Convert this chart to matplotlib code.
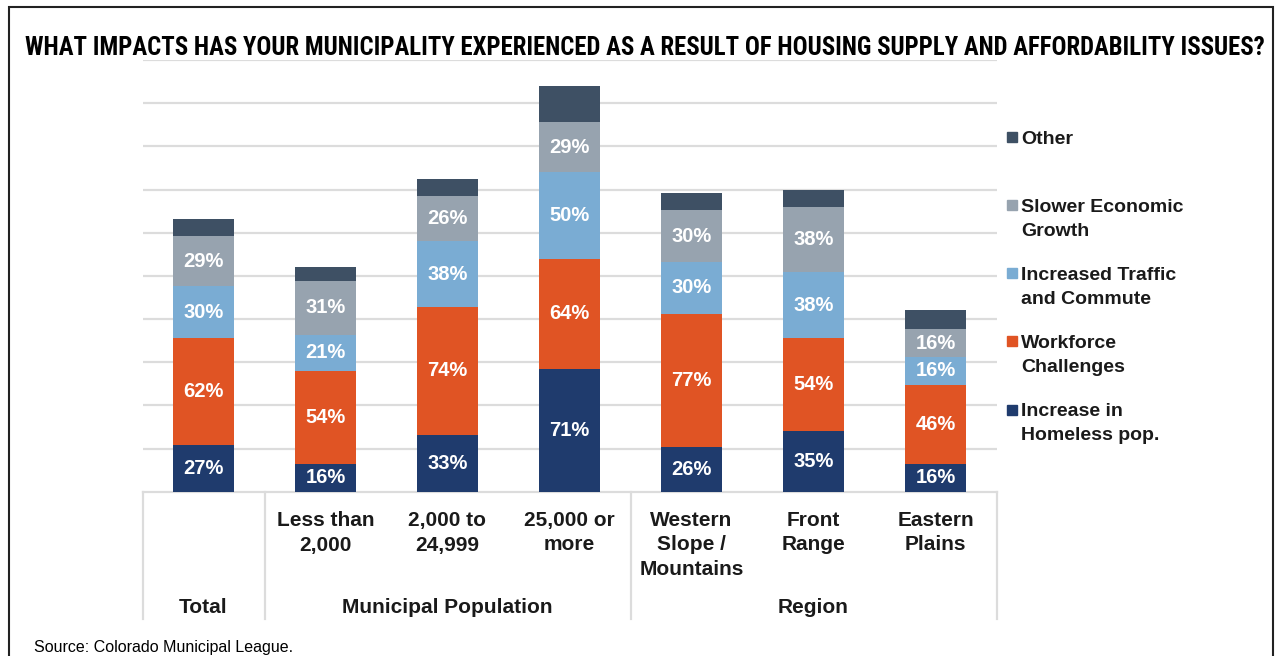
import matplotlib
matplotlib.use("Agg")
import matplotlib.pyplot as plt
from matplotlib import font_manager as fm
from matplotlib.patches import Rectangle
import numpy as np

# ---- data -------------------------------------------------------------
categories = ["Total", "Less than\n2,000", "2,000 to\n24,999", "25,000 or\nmore",
              "Western\nSlope /\nMountains", "Front\nRange", "Eastern\nPlains"]
groups = [("Total", 0, 0), ("Municipal Population", 1, 3), ("Region", 4, 6)]

homeless = [27, 16, 33, 71, 26, 35, 16]
workforce = [62, 54, 74, 64, 77, 54, 46]
traffic = [30, 21, 38, 50, 30, 38, 16]
slower = [29, 31, 26, 29, 30, 38, 16]
other = [10, 8, 10, 21, 10, 10, 11]

series_names = ["Increase in\nHomeless pop.", "Workforce\nChallenges",
                "Increased Traffic\nand Commute", "Slower Economic\nGrowth", "Other"]
series_values = [homeless, workforce, traffic, slower, other]
series_colors = ["#1F3B6D", "#E05424", "#7AACD3", "#97A3AF", "#3E5064"]
labelled = [True, True, True, True, False]

title = ("WHAT IMPACTS HAS YOUR MUNICIPALITY EXPERIENCED AS A RESULT OF "
         "HOUSING SUPPLY AND AFFORDABILITY ISSUES?")
source = "Source: Colorado Municipal League."

# ---- figure -----------------------------------------------------------
W, H = 1278, 656
fig = plt.figure(figsize=(W / 100, H / 100), dpi=100)
fig.patch.set_facecolor("white")

BODY = ["Liberation Sans", "Arial", "DejaVu Sans"]

def fx(px):
    return px / W

def fy(py):
    return 1 - py / H

# plot area in pixels
x_left, x_right = 142.5, 996.5
y_base, y_top = 491.7, 60.1
ax = fig.add_axes([fx(x_left), fy(y_base), fx(x_right - x_left), (y_base - y_top) / H])
ax.set_xlim(-0.5, len(categories) - 0.5)
ax.set_ylim(0, 250)
ax.set_yticks(np.arange(25, 251, 25))
ax.yaxis.grid(True, color="#DCDCDC", linewidth=1.6)
ax.set_axisbelow(True)
ax.tick_params(left=False, bottom=False, labelleft=False, labelbottom=False)
for s in ax.spines.values():
    s.set_visible(False)

x = np.arange(len(categories))
bottom = np.zeros(len(categories))
for vals, color, lab in zip(series_values, series_colors, labelled):
    vals = np.array(vals, dtype=float)
    ax.bar(x, vals, width=0.5, bottom=bottom, color=color, edgecolor="none", zorder=3)
    if lab:
        for xi, b, v in zip(x, bottom, vals):
            ax.text(xi, b + v / 2, f"{int(v)}%", ha="center", va="center",
                    color="white", fontsize=14.5, fontweight="bold", family=BODY, zorder=4)
    bottom += vals

# ---- category table under the bars -----------------------------------
span = y_base - y_top

def ay(py):
    return (y_base - py) / span

tr = ax.get_xaxis_transform()
grid_col = "#DCDCDC"
ax.plot([-0.5, len(categories) - 0.5], [0, 0], transform=tr, color=grid_col,
        linewidth=1.6, clip_on=False, zorder=2)
for xv in [-0.5, 0.5, 3.5, len(categories) - 0.5]:
    ax.plot([xv, xv], [0, ay(619)], transform=tr, color=grid_col,
            linewidth=1.6, clip_on=False)

line_base = [526, 550.5, 575]
for xi, cat in enumerate(categories):
    if xi == 0:
        continue
    for li, line in enumerate(cat.split("\n")):
        ax.text(xi, ay(line_base[li]), line, transform=tr, ha="center", va="baseline",
                fontsize=15, fontweight="bold", family=BODY, color="#1a1a1a")

for name, a, b in groups:
    ax.text((a + b) / 2, ay(613), name, transform=tr, ha="center", va="baseline",
            fontsize=15, fontweight="bold", family=BODY, color="#1a1a1a")

# ---- legend (top entry = top of stack) --------------------------------
leg_first = [136.7, 205, 273.3, 340.5, 409.5]
order = list(range(len(series_names)))[::-1]
for yc, si in zip(leg_first, order):
    fig.add_artist(Rectangle((fx(1007), fy(yc + 5)), 10 / W, 10 / H,
                             transform=fig.transFigure, color=series_colors[si]))
    for li, line in enumerate(series_names[si].split("\n")):
        fig.text(fx(1021), fy(yc + 7 + li * 24), line, ha="left", va="baseline",
                 fontsize=14, fontweight="bold", family=BODY, color="#1a1a1a")

# ---- title in a condensed face -----------------------------------------
names = {f.name for f in fm.fontManager.ttflist}
title_family = None
for cand in ["Liberation Sans Narrow", "Roboto Condensed", "Open Sans Condensed",
             "DejaVu Sans Condensed"]:
    if cand in names:
        title_family = cand
        break
title_kw = dict(fontweight="bold", color="black", ha="center", va="baseline")
if title_family is None:
    title_kw["family"] = ["DejaVu Sans"]
    title_kw["fontstretch"] = "condensed"
else:
    title_kw["family"] = [title_family, "DejaVu Sans"]
t = fig.text(fx(645), fy(55), title, fontsize=20, **title_kw)
fig.canvas.draw()
w = t.get_window_extent().width
t.set_fontsize(20 * 1240 / w)

fig.text(fx(34), fy(652), source, ha="left", va="baseline", fontsize=11.5,
         family=BODY, color="black")

# outer frame
fig.add_artist(Rectangle((fx(9), fy(700)), fx(1273 - 9), (700 - 7) / H,
                         transform=fig.transFigure, fill=False,
                         edgecolor="#222222", linewidth=1.5))

fig.savefig("out.png", dpi=100, facecolor="white")
